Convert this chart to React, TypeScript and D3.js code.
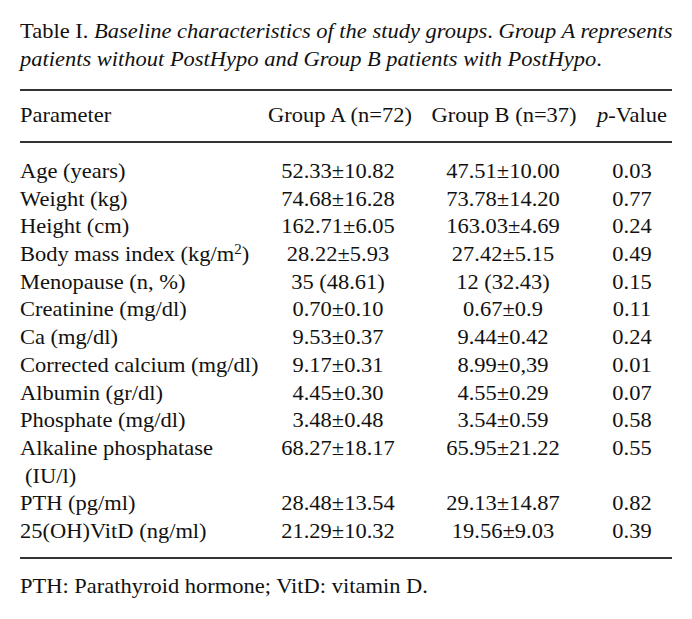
import React from "react";
import * as d3 from "d3";

const parameters = [
  "Age (years)",
  "Weight (kg)",
  "Height (cm)",
  "Body mass index (kg/m²)",
  "Menopause (n, %)",
  "Creatinine (mg/dl)",
  "Ca (mg/dl)",
  "Corrected calcium (mg/dl)",
  "Albumin (gr/dl)",
  "Phosphate (mg/dl)",
  "Alkaline phosphatase",
  "PTH (pg/ml)",
  "25(OH)VitD (ng/ml)",
];
const groupA = [
  "52.33±10.82", "74.68±16.28", "162.71±6.05", "28.22±5.93", "35 (48.61)",
  "0.70±0.10", "9.53±0.37", "9.17±0.31", "4.45±0.30", "3.48±0.48",
  "68.27±18.17", "28.48±13.54", "21.29±10.32",
];
const groupB = [
  "47.51±10.00", "73.78±14.20", "163.03±4.69", "27.42±5.15", "12 (32.43)",
  "0.67±0.9", "9.44±0.42", "8.99±0,39", "4.55±0.29", "3.54±0.59",
  "65.95±21.22", "29.13±14.87", "19.56±9.03",
];
const pValues = [
  "0.03", "0.77", "0.24", "0.49", "0.15", "0.11", "0.24", "0.01", "0.07",
  "0.58", "0.55", "0.82", "0.39",
];
// line slot of each row (Alkaline phosphatase wraps onto two lines)
const rowLines = [0, 1, 2, 3, 4, 5, 6, 7, 8, 9, 10, 12, 13];
const headers = ["Parameter", "Group A (n=72)", "Group B (n=37)", "p-Value"];

const FONT = "'Liberation Serif', 'Times New Roman', serif";
const FS = 21;
const SX = 1.071;

type TProps = { x: number; y: number; anchor?: string; children: React.ReactNode };
function T({ x, y, anchor = "start", children }: TProps) {
  return (
    <text transform={`translate(${x},${y}) scale(${SX},1)`} textAnchor={anchor}>
      {children}
    </text>
  );
}

export default function App() {
  const W = 692, H = 619;
  // baselines of table lines
  const y = d3.scaleLinear().domain([0, 13]).range([178, 538]);
  const colX = [20, 338, 503, 632];
  const ruleColor = "#333";
  const textColor = "#111";

  const renderParam = (p: string) => {
    if (p.includes("²")) {
      const base = p.replace("²)", "");
      return (
        <>
          {base}
          <tspan dy={-7} fontSize={14}>2</tspan>
          <tspan dy={7}>)</tspan>
        </>
      );
    }
    return p;
  };

  return (
    <svg width={W} height={H} style={{ position: "absolute", left: 0, top: 0, background: "#fff" }}
      fontFamily={FONT} fontSize={FS} fill={textColor}>
      <rect width={W} height={H} fill="#fff" />
      {/* Title */}
      <T x={20} y={38}>
        <tspan>Table I. </tspan>
        <tspan fontStyle="italic">Baseline characteristics of the study groups</tspan>
        <tspan>. </tspan>
        <tspan fontStyle="italic">Group A represents</tspan>
      </T>
      <T x={20} y={66}>
        <tspan fontStyle="italic">patients without PostHypo and Group B patients with PostHypo</tspan>
        <tspan>.</tspan>
      </T>
      {/* rules */}
      <line x1={20} x2={672} y1={90} y2={90} stroke={ruleColor} strokeWidth={2} />
      <line x1={20} x2={672} y1={142} y2={142} stroke={ruleColor} strokeWidth={2} />
      <line x1={20} x2={672} y1={558} y2={558} stroke={ruleColor} strokeWidth={2} />
      {/* headers */}
      <T x={colX[0]} y={122}>{headers[0]}</T>
      <T x={340} y={122} anchor="middle">{headers[1]}</T>
      <T x={504} y={122} anchor="middle">{headers[2]}</T>
      <T x={colX[3]} y={122} anchor="middle">
        <tspan fontStyle="italic">p</tspan>-Value
      </T>
      {/* rows */}
      {parameters.map((p, i) => {
        const by = y(rowLines[i]);
        return (
          <g key={p}>
            <T x={colX[0]} y={by}>{renderParam(p)}</T>
            <T x={colX[1]} y={by} anchor="middle">{groupA[i]}</T>
            <T x={colX[2]} y={by} anchor="middle">{groupB[i]}</T>
            <T x={colX[3]} y={by} anchor="middle">{pValues[i]}</T>
          </g>
        );
      })}
      <T x={25} y={y(11)}>(IU/l)</T>
      {/* footer */}
      <T x={20} y={593}>PTH: Parathyroid hormone; VitD: vitamin D.</T>
    </svg>
  );
}
